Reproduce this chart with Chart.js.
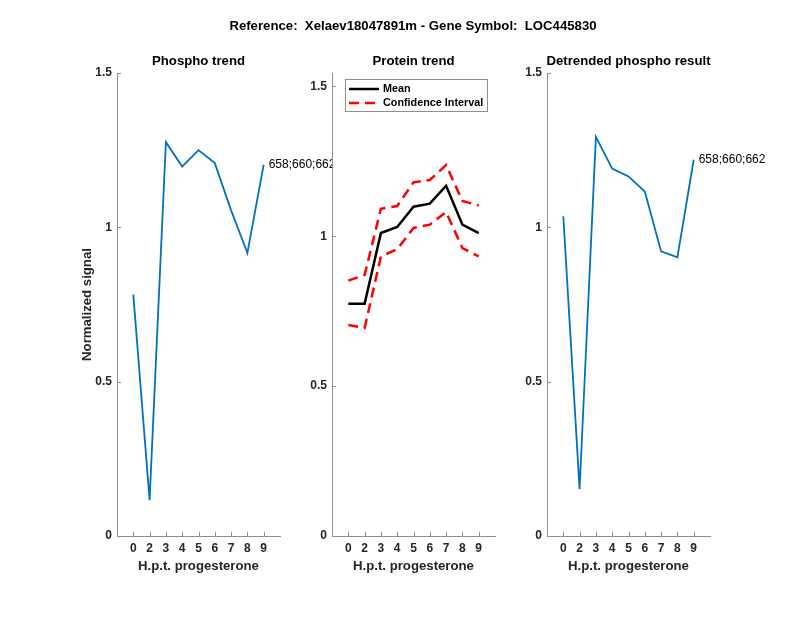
<!DOCTYPE html>
<html>
<head>
<meta charset="utf-8">
<script src="https://cdn.jsdelivr.net/npm/chart.js@4.4.0/dist/chart.umd.min.js"></script>
<style>
  body { margin: 0; background: #fff; }
  #contenedor { position: relative; width: 800px; height: 618px; overflow: hidden; }
  #contenedor canvas { position: absolute; left: 0; top: 0; }
  #tituloGeneral {
    position: absolute; left: 0; top: 18px; width: 826px;
    text-align: center; white-space: pre; color: #000;
    font: bold 13.2px "Liberation Sans", Arial, sans-serif; line-height: 16px;
  }
</style>
</head>
<body>
<div id="contenedor">
  <canvas id="panel1" width="800" height="618"></canvas>
  <canvas id="panel2" width="800" height="618"></canvas>
  <canvas id="panel3" width="800" height="618"></canvas>
  <div id="tituloGeneral">Reference:  Xelaev18047891m - Gene Symbol:  LOC445830</div>
</div>
<script>
// Datos
const horas = ['0', '2', '3', '4', '5', '6', '7', '8', '9'];
const ticksY = [0, 0.5, 1, 1.5];
const fosfo = [0.782, 0.116, 1.276, 1.197, 1.250, 1.208, 1.055, 0.917, 1.203];
const proteinaMedia = [0.775, 0.775, 1.011, 1.031, 1.099, 1.109, 1.169, 1.039, 1.011];
const proteinaSup = [0.852, 0.871, 1.092, 1.101, 1.180, 1.188, 1.238, 1.118, 1.103];
const proteinaInf = [0.704, 0.694, 0.933, 0.957, 1.028, 1.039, 1.081, 0.961, 0.933];
const fosfoCorregido = [1.036, 0.152, 1.293, 1.190, 1.165, 1.116, 0.922, 0.903, 1.219];
const sitio = '658;660;662';

const fuente = '"Liberation Sans", Arial, sans-serif';
const colorEje = '#8f8f8f';
const colorTexto = '#262626';
const azul = '#0072BD';

Chart.defaults.font.family = fuente;

function puntos(valores) {
  return valores.map((v, i) => ({ x: i, y: v }));
}

// Fondo blanco, marcas hacia dentro, títulos, leyenda y etiqueta
const adornos = {
  id: 'adornos',
  beforeDraw(chart) {
    const a = chart.chartArea;
    const ctx = chart.ctx;
    ctx.save();
    ctx.fillStyle = '#fff';
    ctx.fillRect(a.left, a.top, a.right - a.left, a.bottom - a.top);
    ctx.restore();
  },
  afterDraw(chart, args, opts) {
    const a = chart.chartArea;
    const ctx = chart.ctx;
    const sx = chart.scales.x;
    const sy = chart.scales.y;
    const centro = (a.left + a.right) / 2;
    ctx.save();

    // marcas
    ctx.strokeStyle = colorEje;
    ctx.lineWidth = 1;
    ctx.beginPath();
    sx.ticks.forEach(t => {
      const px = Math.round(sx.getPixelForValue(t.value)) + 0.5;
      ctx.moveTo(px, a.bottom);
      ctx.lineTo(px, a.bottom - 4);
    });
    sy.ticks.forEach(t => {
      const py = Math.round(sy.getPixelForValue(t.value)) + 0.5;
      ctx.moveTo(a.left, py);
      ctx.lineTo(a.left + 4, py);
    });
    ctx.stroke();

    // títulos
    ctx.textAlign = 'center';
    ctx.textBaseline = 'middle';
    ctx.fillStyle = '#000';
    ctx.font = 'bold 13.2px ' + fuente;
    ctx.fillText(opts.titulo, centro, a.top - 12);
    ctx.fillStyle = colorTexto;
    ctx.fillText('H.p.t. progesterone', centro, a.bottom + 30);
    if (opts.tituloY) {
      ctx.save();
      ctx.translate(a.left - 30, (a.top + a.bottom) / 2);
      ctx.rotate(-Math.PI / 2);
      ctx.fillText(opts.tituloY, 0, 0);
      ctx.restore();
    }

    // etiqueta junto al último punto
    if (opts.etiqueta) {
      const datos = chart.data.datasets[0].data;
      const ultimo = datos[datos.length - 1];
      ctx.textAlign = 'left';
      ctx.fillStyle = '#000';
      ctx.font = '12px ' + fuente;
      ctx.fillText(opts.etiqueta, sx.getPixelForValue(ultimo.x) + 5, sy.getPixelForValue(ultimo.y));
    }

    // leyenda dentro del área
    if (opts.leyenda) {
      const x0 = a.left + 13;
      const y0 = a.top + 6;
      ctx.fillStyle = '#fff';
      ctx.fillRect(x0, y0, 142, 32);
      ctx.strokeStyle = colorEje;
      ctx.lineWidth = 1;
      ctx.strokeRect(x0 + 0.5, y0 + 0.5, 142, 32);
      const entradas = chart.data.datasets.filter(d => !d.sinLeyenda);
      entradas.forEach((d, i) => {
        const yy = y0 + 10 + i * 14;
        ctx.strokeStyle = d.borderColor;
        ctx.lineWidth = d.borderWidth;
        ctx.setLineDash(d.borderDash || []);
        ctx.beginPath();
        ctx.moveTo(x0 + 4, yy);
        ctx.lineTo(x0 + 34, yy);
        ctx.stroke();
        ctx.setLineDash([]);
        ctx.fillStyle = '#000';
        ctx.font = 'bold 10.8px ' + fuente;
        ctx.textAlign = 'left';
        ctx.fillText(d.label, x0 + 38, yy);
      });
    }
    ctx.restore();
  }
};

function escalas(maxY) {
  return {
    x: {
      type: 'linear',
      min: -1,
      max: horas.length,
      afterBuildTicks: (s) => { s.ticks = horas.map((h, i) => ({ value: i })); },
      afterFit: (s) => { s.height = 40; },
      grid: { display: false, drawTicks: false },
      border: { display: true, color: colorEje, width: 1 },
      ticks: {
        callback: (v) => horas[v],
        autoSkip: false,
        maxRotation: 0,
        padding: 5,
        color: colorTexto,
        font: { size: 12, weight: 'bold' }
      }
    },
    y: {
      min: 0,
      max: maxY,
      afterBuildTicks: (s) => { s.ticks = ticksY.map(v => ({ value: v })); },
      afterFit: (s) => { s.width = 40; },
      grid: { display: false, drawTicks: false },
      border: { display: true, color: colorEje, width: 1 },
      ticks: {
        callback: (v) => String(v),
        padding: 5,
        color: colorTexto,
        font: { size: 12, weight: 'bold' }
      }
    }
  };
}

// Crear cada panel
function crearPanel(id, izquierda, derecha, maxY, datasets, extras) {
  const ctx = document.getElementById(id).getContext('2d');
  return new Chart(ctx, {
    type: 'line',
    data: { datasets: datasets },
    options: {
      responsive: false,
      animation: false,
      layout: { padding: { left: izquierda - 40, right: 800 - derecha, top: 73, bottom: 618 - 536 - 40 } },
      elements: { point: { radius: 0 }, line: { tension: 0 } },
      plugins: { legend: { display: false }, tooltip: { enabled: false }, adornos: extras },
      scales: escalas(maxY)
    },
    plugins: [adornos]
  });
}

crearPanel('panel1', 117, 280, 1.5, [
  { label: 'Phospho', data: puntos(fosfo), borderColor: azul, borderWidth: 1.8 }
], { titulo: 'Phospho trend', tituloY: 'Normalized signal', etiqueta: sitio });

crearPanel('panel2', 332, 495, 1.545, [
  { label: 'Mean', data: puntos(proteinaMedia), borderColor: '#000', borderWidth: 2.5 },
  { label: 'Confidence Interval', data: puntos(proteinaSup), borderColor: '#ff0000', borderWidth: 2.5, borderDash: [10, 6] },
  { label: 'Confidence Interval', data: puntos(proteinaInf), borderColor: '#ff0000', borderWidth: 2.5, borderDash: [10, 6], sinLeyenda: true }
], { titulo: 'Protein trend', leyenda: true });

crearPanel('panel3', 547, 710, 1.5, [
  { label: 'Detrended', data: puntos(fosfoCorregido), borderColor: azul, borderWidth: 1.8 }
], { titulo: 'Detrended phospho result', etiqueta: sitio });
</script>
</body>
</html>
